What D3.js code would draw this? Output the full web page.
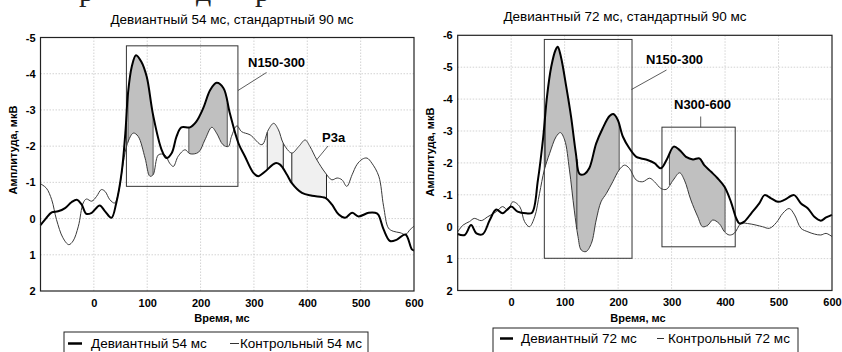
<!DOCTYPE html>
<html><head><meta charset="utf-8">
<script src="https://cdn.jsdelivr.net/npm/d3@7"></script>
<style>
html,body{margin:0;padding:0;background:#fff;}
svg{display:block;font-family:"Liberation Sans",Arial,sans-serif;}
</style></head>
<body>
<svg id="c" width="842" height="352"></svg>
<script>
// ---------- DATA ----------
const xTicks = [0, 100, 200, 300, 400, 500, 600];
const yTicksLeft = [-5, -4, -3, -2, -1, 0, 1, 2];
const yTicksRight = [-6, -5, -4, -3, -2, -1, 0, 1, 2];
const titleLeft = "Девиантный 54 мс, стандартный 90 мс";
const titleRight = "Девиантный 72 мс, стандартный 90 мс";
const legendLeft = ["Девиантный 54 мс", "Контрольный 54 мс"];
const legendRight = ["Девиантный 72 мс", "Контрольный 72 мс"];
const xTitle = "Время, мс";
const yTitle = "Амплитуда, мкВ";

// [time ms, amplitude µV]
const dev54 = [[-100,0.18],[-90,0.0],[-79,-0.17],[-67,-0.2],[-54,-0.29],[-42,-0.45],[-32,-0.52],[-23,-0.39],[-14,-0.13],[-4,-0.16],[11,-0.36],[21,-0.2],[33,-0.02],[42,-0.43],[52,-1.26],[59,-2.36],[64,-3.46],[71,-4.19],[79,-4.51],[89,-4.33],[99,-3.92],[111,-2.86],[127,-1.9],[136,-1.67],[146,-1.81],[155,-2.27],[164,-2.52],[180,-2.52],[192,-2.68],[205,-3.05],[218,-3.55],[230,-3.75],[243,-3.6],[255,-2.9],[271,-2.08],[283,-1.72],[299,-1.26],[308,-1.17],[321,-1.3],[340,-1.53],[349,-1.49],[362,-1.21],[371,-0.98],[390,-0.71],[409,-0.63],[434,-0.57],[446,-0.39],[459,-0.11],[471,-0.02],[484,-0.16],[496,-0.06],[515,-0.16],[527,-0.16],[533,-0.11],[543,0.3],[555,0.62],[568,0.58],[584,0.44],[596,0.85],[600,0.88]];
const ctrl54 = [[-100,-0.96],[-89,-0.84],[-79,-0.52],[-70,0.03],[-58,0.53],[-47,0.72],[-39,0.62],[-29,0.21],[-20,-0.43],[-14,-0.54],[-4,-0.48],[5,-0.61],[14,-0.8],[21,-0.75],[30,-0.52],[39,-0.43],[46,-0.71],[55,-1.53],[63,-2.08],[74,-2.36],[83,-2.27],[96,-1.67],[105,-1.17],[111,-1.21],[121,-1.76],[133,-1.76],[142,-1.53],[149,-1.44],[158,-1.72],[171,-1.9],[180,-1.79],[196,-1.83],[208,-2.17],[221,-2.52],[230,-2.36],[242,-2.04],[252,-1.99],[258,-2.27],[268,-2.56],[277,-2.4],[293,-2.31],[315,-2.04],[327,-2.45],[337,-2.63],[346,-2.45],[355,-2.08],[371,-1.81],[384,-1.99],[396,-2.17],[405,-1.99],[418,-1.62],[434,-1.26],[446,-1.07],[456,-1.12],[465,-1.07],[474,-0.89],[484,-1.21],[493,-1.49],[503,-1.64],[512,-1.67],[521,-1.53],[534,-1.17],[543,-0.34],[552,0.26],[561,0.35],[574,0.39],[584,0.44],[593,0.3],[600,0.21]];
const dev72 = [[-100,0.23],[-87,0.26],[-75,-0.05],[-65,0.21],[-53,0.23],[-40,-0.21],[-28,-0.54],[-16,-0.42],[0,-0.63],[12,-0.47],[28,-0.42],[39,-0.44],[50,-1.46],[60,-2.82],[67,-4.08],[75,-5.02],[83,-5.54],[87,-5.64],[93,-5.33],[103,-4.39],[112,-3.45],[121,-2.3],[128,-1.65],[137,-1.65],[146,-1.83],[159,-2.61],[171,-3.08],[184,-3.47],[191,-3.53],[199,-3.36],[209,-2.82],[221,-2.46],[234,-2.19],[243,-2.14],[255,-2.09],[268,-1.99],[280,-1.83],[292,-2.14],[304,-2.51],[315,-2.4],[327,-2.19],[340,-2.11],[352,-2.14],[361,-1.93],[374,-1.72],[386,-1.52],[399,-1.25],[411,-0.78],[421,-0.26],[427,-0.1],[436,-0.16],[449,-0.42],[464,-0.73],[474,-0.99],[486,-0.89],[499,-0.78],[511,-0.84],[529,-0.99],[542,-0.73],[555,-0.57],[567,-0.31],[579,-0.19],[589,-0.29],[600,-0.37]];
const ctrl72 = [[-100,0.16],[-90,-0.05],[-78,-0.16],[-69,-0.26],[-56,-0.19],[-44,-0.31],[-28,-0.47],[-16,-0.63],[-6,-0.52],[3,-0.78],[16,-0.63],[25,-0.16],[34,0],[44,-0.31],[53,-1.04],[62,-1.78],[72,-2.3],[84,-2.82],[92,-2.95],[100,-2.72],[109,-1.78],[118,-0.52],[125,0.31],[131,0.73],[140,0.78],[150,0.52],[159,-0.21],[168,-0.78],[178,-1.04],[190,-1.41],[202,-1.78],[212,-1.93],[221,-1.83],[234,-1.46],[246,-1.41],[259,-1.52],[268,-1.41],[280,-1.2],[290,-1.17],[303,-1.46],[315,-1.69],[324,-1.46],[336,-0.84],[349,-0.31],[358,0],[368,-0.05],[377,-0.21],[389,-0.1],[399,0.16],[408,0.26],[417,0.21],[430,-0.1],[442,-0.1],[458,-0.05],[470,0],[483,0.05],[496,-0.13],[508,-0.42],[520,-0.57],[530,-0.37],[542,0.05],[555,0.16],[567,0.23],[579,0.26],[589,0.21],[600,0.31]];

// shaded windows [from, to] in ms
const shadeDarkLeft = [[64,111],[178,250]];
const shadeLightLeft = [[325,355],[371,436]];
const shadeDarkRight = [[64,123],[123,202],[296,400]];
// annotation boxes: [t0, t1, vTop, vBottom]
const boxesLeft = [[61,270,-4.77,-0.89]];
const boxesRight = [[62,226,-5.87,0.99],[282,419,-3.12,0.63]];

// ---------- DRAW ----------
const svg = d3.select("#c");
svg.append("rect").attr("width",842).attr("height",352).attr("fill","#fff");

// clipped caption fragment at very top (only descenders visible)
const frag = svg.append("g").attr("font-family","'Liberation Serif',serif").attr("font-size",30).attr("fill","#222");
[["р",79],["д",196],["р",255]].forEach(([s,x])=>frag.append("text").attr("x",x).attr("y",1).text(s));

function interp(data, t){
  for(let i=0;i<data.length-1;i++){
    const a=data[i], b=data[i+1];
    if(t>=a[0] && t<=b[0]){ const f=(t-a[0])/(b[0]-a[0]); return a[1]+f*(b[1]-a[1]); }
  }
  return data[data.length-1][1];
}
function sub(data,t0,t1){
  const pts=[[t0,interp(data,t0)]];
  data.forEach(d=>{ if(d[0]>t0 && d[0]<t1) pts.push(d); });
  pts.push([t1,interp(data,t1)]);
  return pts;
}

function panel(cfg){
  const x = d3.scaleLinear().domain([-100,600]).range([cfg.x0,cfg.x1]);
  const y = d3.scaleLinear().domain(cfg.yDomain).range([cfg.y0,cfg.y1]);
  const g = svg.append("g");
  // grid
  const grid = g.append("g").attr("stroke","#c8c8c8").attr("stroke-width",0.8).attr("stroke-dasharray","1.5,1.5");
  xTicks.forEach(t=>{ if(t>-100 && t<600) grid.append("line").attr("x1",x(t)).attr("x2",x(t)).attr("y1",cfg.y0).attr("y2",cfg.y1); });
  cfg.yTicks.forEach(v=>{ if(v!==cfg.yDomain[0] && v!==cfg.yDomain[1]) grid.append("line").attr("x1",cfg.x0).attr("x2",cfg.x1).attr("y1",y(v)).attr("y2",y(v)); });

  const line = d3.line().x(d=>x(d[0])).y(d=>y(d[1])).curve(d3.curveCatmullRom.alpha(0.5));
  // shading
  function shade(ranges, fill){
    ranges.forEach(([t0,t1])=>{
      const top = sub(cfg.dev,t0,t1);
      const bot = sub(cfg.ctrl,t0,t1).reverse();
      const p = line(top) + "L" + line(bot).slice(1) + "Z";
      g.append("path").attr("d",p).attr("fill",fill).attr("stroke","none");
      [t0,t1].forEach(t=>g.append("line").attr("x1",x(t)).attr("x2",x(t))
        .attr("y1",y(interp(cfg.dev,t))).attr("y2",y(interp(cfg.ctrl,t)))
        .attr("stroke",fill==="#c0c0c0"?"#555":"#222").attr("stroke-width",1));
    });
  }
  shade(cfg.dark,"#c0c0c0");
  if(cfg.light) shade(cfg.light,"#f0f0f0");

  // boxes
  cfg.boxes.forEach(([t0,t1,v0,v1])=>{
    g.append("rect").attr("x",x(t0)).attr("y",y(v0)).attr("width",x(t1)-x(t0)).attr("height",y(v1)-y(v0))
      .attr("fill","none").attr("stroke","#333").attr("stroke-width",1);
  });

  // curves
  g.append("path").attr("d",line(cfg.ctrl)).attr("fill","none").attr("stroke","#3a3a3a").attr("stroke-width",1);
  g.append("path").attr("d",line(cfg.dev)).attr("fill","none").attr("stroke","#000").attr("stroke-width",2);

  // frame
  g.append("rect").attr("x",cfg.x0).attr("y",cfg.y0).attr("width",cfg.x1-cfg.x0).attr("height",cfg.y1-cfg.y0)
    .attr("fill","none").attr("stroke","#222").attr("stroke-width",1.2);

  // axes
  const xa = d3.axisBottom(x).tickValues(xTicks).tickSize(0).tickPadding(8);
  const xg = g.append("g").attr("transform",`translate(0,${cfg.y1})`).call(xa);
  const ya = d3.axisLeft(y).tickValues(cfg.yTicks).tickSize(0).tickPadding(5).tickFormat(d3.format("d"));
  const yg = g.append("g").attr("transform",`translate(${cfg.x0},0)`).call(ya);
  [xg,yg].forEach(a=>{ a.select(".domain").remove(); a.selectAll("text").attr("font-family","'Liberation Sans',Arial,sans-serif").attr("font-size",11).attr("font-weight","bold").attr("fill","#000"); });
  yg.selectAll("text").text(d=>String(d).replace("−","-"));

  // titles
  g.append("text").attr("x",cfg.titleX).attr("y",cfg.titleY).attr("text-anchor","middle").attr("font-size",13.5).attr("fill","#000").text(cfg.title);
  g.append("text").attr("x",cfg.xtX).attr("y",322).attr("text-anchor","middle").attr("font-size",11).attr("font-weight","bold").text(xTitle);
  g.append("text").attr("transform",`translate(${cfg.ytX},${cfg.ytY}) rotate(-90)`).attr("text-anchor","middle").attr("font-size",11).attr("font-weight","bold").text(yTitle);

  // labels
  cfg.labels.forEach(l=>{
    g.append("text").attr("x",l.x).attr("y",l.y).attr("font-size",13).attr("font-weight","bold").text(l.text);
    g.append("line").attr("x1",l.l[0]).attr("y1",l.l[1]).attr("x2",l.l[2]).attr("y2",l.l[3]).attr("stroke","#333").attr("stroke-width",0.8);
  });

  // legend
  const L = cfg.legend;
  const lg = g.append("g");
  lg.append("rect").attr("x",L.x0).attr("y",L.y0).attr("width",L.x1-L.x0).attr("height",30).attr("fill","#fff").attr("stroke","#222").attr("stroke-width",1);
  lg.append("line").attr("x1",L.s1[0]).attr("x2",L.s1[1]).attr("y1",L.ty-4.5).attr("y2",L.ty-4.5).attr("stroke","#000").attr("stroke-width",2.5);
  lg.append("text").attr("x",L.t1).attr("y",L.ty).attr("font-size",13.5).text(cfg.legendText[0]);
  lg.append("line").attr("x1",L.s2[0]).attr("x2",L.s2[1]).attr("y1",L.ty-4.5).attr("y2",L.ty-4.5).attr("stroke","#333").attr("stroke-width",1);
  lg.append("text").attr("x",L.t2).attr("y",L.ty).attr("font-size",13.5).text(cfg.legendText[1]);
}

panel({x0:40.5,x1:414,y0:37.5,y1:291,yDomain:[-5,2],yTicks:yTicksLeft,dev:dev54,ctrl:ctrl54,
  dark:shadeDarkLeft,light:shadeLightLeft,boxes:boxesLeft,title:titleLeft,titleX:232,titleY:24,
  xtX:222,ytX:17,ytY:150,
  labels:[{text:"N150-300",x:248,y:67,l:[238,90.5,266.5,72.5]},{text:"P3a",x:322,y:142,l:[316.5,160,328,146]}],
  legend:{x0:64,x1:368,y0:332,ty:348,s1:[68,82],t1:91,s2:[230,239],t2:240},legendText:legendLeft});

panel({x0:457.7,x1:832,y0:35.3,y1:290.5,yDomain:[-6,2],yTicks:yTicksRight,dev:dev72,ctrl:ctrl72,
  dark:shadeDarkRight,light:null,boxes:boxesRight,title:titleRight,titleX:625,titleY:21,
  xtX:638,ytX:434,ytY:152,
  labels:[{text:"N150-300",x:646,y:64,l:[631.5,89.5,666.5,70]},{text:"N300-600",x:674,y:109,l:[700.7,116.5,700.7,127.3]}],
  legend:{x0:493,x1:798,y0:328,ty:343,s1:[500,513],t1:521,s2:[657,664],t2:668},legendText:legendRight});
</script>
</body></html>
